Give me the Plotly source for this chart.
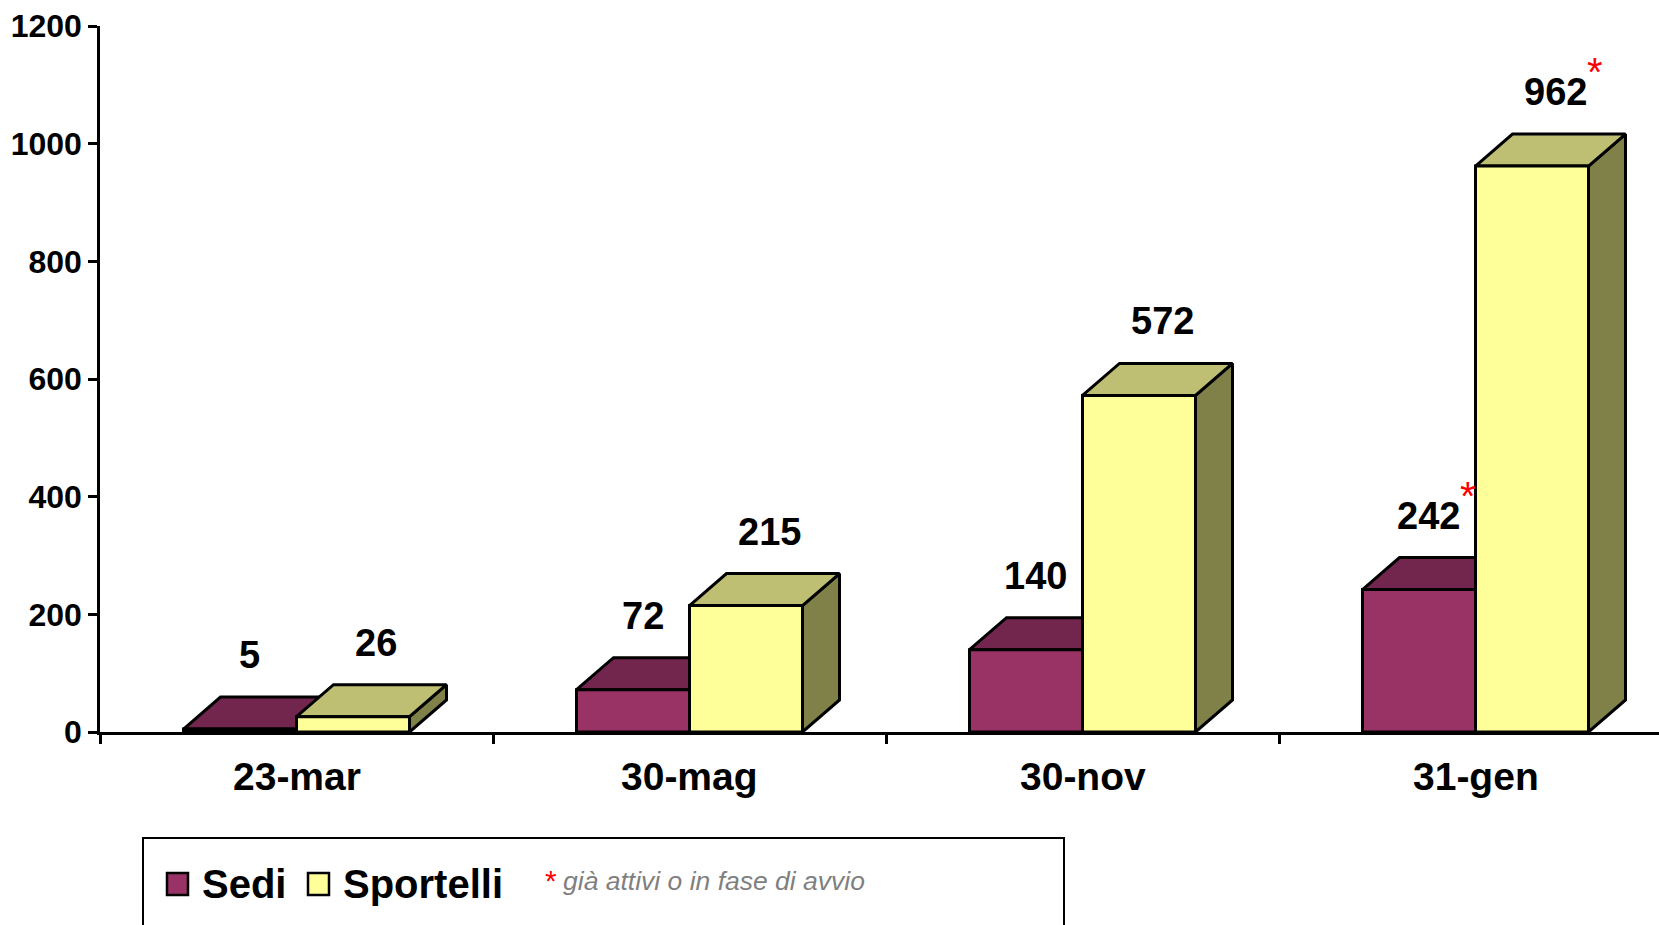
import plotly.graph_objects as go

# ---------------- data ----------------
categories = ["23-mar", "30-mag", "30-nov", "31-gen"]
sedi = [5, 72, 140, 242]
sportelli = [26, 215, 572, 962]
flagged = [False, False, False, True]          # values marked with a red asterisk
y_ticks = [0, 200, 400, 600, 800, 1000, 1200]
series_names = ["Sedi", "Sportelli"]
note_text = "già attivi o in fase di avvio"

# ---------------- geometry / style ----------------
W, H = 1659, 925
ML, MR, MT, MB = 100, 0, 26, 193
PW = W - ML - MR
PH = H - MT - MB
YMAX = 1200
CAT_PX = 393                      # pixel width of one category
XMIN = -0.5
XMAX = XMIN + PW / CAT_PX
BAR_W = 113 / CAT_PX              # bar front width in category units
DX = 37 / CAT_PX                  # 3-D depth, x (category units)
DY = 32 / PH * YMAX               # 3-D depth, y (data units)

FONT = "Liberation Sans, Arial, sans-serif"
colors = {
    "Sedi": dict(front="#993366", top="#72264D", side="#4C1A33"),
    "Sportelli": dict(front="#FFFF99", top="#BFBF73", side="#808049"),
}
label_dx_frac = {"Sedi": 0.26, "Sportelli": 0.63}


def px_x(px):
    return (px - ML) / PW


def px_y(py):
    return (H - MB - py) / PH


fig = go.Figure()

series_values = {"Sedi": sedi, "Sportelli": sportelli}
annotations = []

for k, name in enumerate(series_names):
    vals = series_values[name]
    faces = {"side": ([], []), "top": ([], []), "front": ([], [])}
    for i, v in enumerate(vals):
        x0 = i - BAR_W if k == 0 else i
        x1 = x0 + BAR_W
        fx, fy = faces["front"]
        fx += [x0, x1, x1, x0, x0, None]
        fy += [0, 0, v, v, 0, None]
        tx, ty = faces["top"]
        tx += [x0, x1, x1 + DX, x0 + DX, x0, None]
        ty += [v, v, v + DY, v + DY, v, None]
        sx, sy = faces["side"]
        sx += [x1, x1 + DX, x1 + DX, x1, x1, None]
        sy += [0, DY, v + DY, v, 0, None]

        # value label
        lx = x0 + BAR_W / 2 + DX * label_dx_frac[name]
        annotations.append(dict(
            x=lx, y=v + DY, xref="x", yref="y", text=str(v), showarrow=False,
            yshift=42, yanchor="middle", xanchor="center",
            font=dict(family=FONT, size=38, color="black", weight="bold")))
        if flagged[i]:
            half = len(str(v)) * 0.556 * 38 / 2
            annotations.append(dict(
                x=lx, y=v + DY, xref="x", yref="y", text="*", showarrow=False,
                xshift=half + 8, yshift=42 + 20, yanchor="middle", xanchor="center",
                font=dict(family=FONT, size=40, color="#FF0000")))

    for face in ["side", "top", "front"]:
        xs, ys = faces[face]
        fig.add_trace(go.Scatter(
            x=xs, y=ys, mode="lines", fill="toself",
            fillcolor=colors[name][face],
            line=dict(color="black", width=3),
            hoverinfo="skip", showlegend=False, name=name))

# category labels
for i, c in enumerate(categories):
    annotations.append(dict(
        x=i, y=px_y(776), xref="x", yref="paper", text=c, showarrow=False,
        xanchor="center", yanchor="middle",
        font=dict(family=FONT, size=39, color="black", weight="bold")))

# legend (manual)
shapes = [
    dict(type="rect", xref="paper", yref="paper",
         x0=px_x(143), x1=px_x(1064), y0=px_y(945), y1=px_y(838),
         line=dict(color="black", width=2), fillcolor="white", layer="below"),
]
leg_items = [(series_names[0], 167, 200), (series_names[1], 308, 341)]
for name, sx, tx in leg_items:
    shapes.append(dict(type="rect", xref="paper", yref="paper",
                       x0=px_x(sx), x1=px_x(sx + 21), y0=px_y(895), y1=px_y(873),
                       line=dict(color="black", width=2.5),
                       fillcolor=colors[name]["front"]))
    annotations.append(dict(
        x=px_x(tx), y=px_y(884), xref="paper", yref="paper", text=name,
        showarrow=False, xanchor="left", yanchor="middle",
        font=dict(family=FONT, size=40, color="black", weight="bold")))

annotations.append(dict(
    x=px_x(551), y=px_y(880), xref="paper", yref="paper", text="*",
    showarrow=False, xanchor="center", yanchor="middle",
    font=dict(family=FONT, size=30, color="#FF0000")))
annotations.append(dict(
    x=px_x(561), y=px_y(881), xref="paper", yref="paper", text=note_text,
    showarrow=False, xanchor="left", yanchor="middle",
    font=dict(family=FONT, size=26.5, color="#808080", style="italic")))

fig.update_layout(
    width=W, height=H, autosize=False,
    margin=dict(l=ML, r=MR, t=MT, b=MB, pad=0),
    paper_bgcolor="white", plot_bgcolor="white",
    showlegend=False,
    shapes=shapes, annotations=annotations,
    xaxis=dict(range=[XMIN, XMAX], showgrid=False, zeroline=False,
               showline=True, linecolor="black", linewidth=2.5,
               tickvals=[i - 0.5 for i in range(len(categories))],
               ticks="outside", ticklen=9, tickwidth=2.5, tickcolor="black",
               showticklabels=False, fixedrange=True),
    yaxis=dict(range=[0, YMAX], showgrid=False, zeroline=False,
               showline=True, linecolor="black", linewidth=2.5,
               tickvals=y_ticks, ticks="outside", ticklen=9, tickwidth=2.5,
               tickcolor="black", ticklabelstandoff=0,
               tickfont=dict(family=FONT, size=32, color="black", weight="bold"),
               fixedrange=True),
)

fig.write_html("out.html", config={"displayModeBar": False})
